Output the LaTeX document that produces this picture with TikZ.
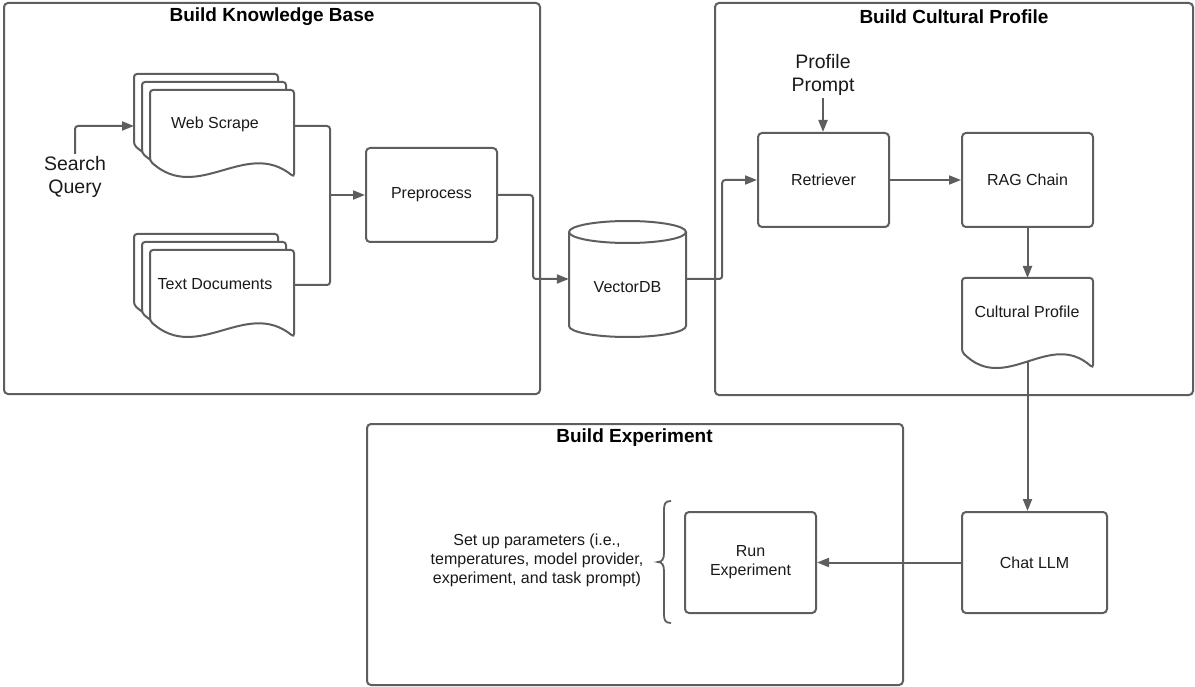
\documentclass[tikz,border=0pt]{standalone}
\usepackage{fontspec}
\setmainfont{Liberation Sans}
\usetikzlibrary{arrows.meta}
\definecolor{ln}{HTML}{5E5E5E}
\definecolor{tx}{HTML}{1A1A1A}
\tikzset{
  line/.style={draw=ln, line width=2pt},
  arr/.style={line, -{Triangle[length=12pt,width=9pt]}},
  frame/.style={line, rounded corners=4pt},
  box/.style={draw=ln, line width=2pt, rounded corners=4pt, fill=white, inner sep=1pt,
    font=\fontsize{16}{19}\selectfont, text=tx, align=center},
  lbl/.style={font=\fontsize{16}{19}\selectfont, text=tx, align=center, inner sep=1pt},
  biglbl/.style={font=\fontsize{19.5}{23.5}\selectfont, text=tx, align=center, inner sep=2pt},
  ttl/.style={font=\fontsize{19}{23}\selectfont\bfseries, text=black, inner sep=0pt},
  docsh/.style={draw=ln, line width=2pt, fill=white, rounded corners=3pt},
}
% l t r b : left, top, right, left-bottom y
\newcommand\mydocpath[4]{%
  \path[docsh] (#1,#4) -- (#1,#2) -- (#3,#2) -- (#3,{#4+16})
    .. controls ({#1+0.667*(#3-#1)},{#4-23}) and ({#1+0.333*(#3-#1)},{#4+43}) .. (#1,#4) -- cycle;}
\begin{document}
\begin{tikzpicture}[x=1pt,y=-1pt]
\useasboundingbox (0,0) rectangle (1195,687);
\fill[white] (0,0) rectangle (1195,687);

% frames
\draw[frame] (4,3) rectangle (540,394);
\draw[frame] (715,3) rectangle (1193,395);
\draw[frame] (367,424) rectangle (903,685);
\node[ttl] (t1) at (272,16.5) {Build Knowledge Base};
\node[ttl] (t2) at (954,16.5) {Build Cultural Profile};
\node[ttl] (t3) at (634.5,438) {Build Experiment};

% Web Scrape stack
\mydocpath{134}{74}{278}{145}
\mydocpath{142}{82}{286}{153}
\mydocpath{150}{90}{294}{161}
\node[lbl] (ws) at (215,124) {Web Scrape};
\coordinate (wsin) at (134,126);
\coordinate (wsout) at (294,126);

% Text Documents stack
\mydocpath{134}{234}{278}{305}
\mydocpath{142}{242}{286}{313}
\mydocpath{150}{250}{294}{321}
\node[lbl] (td) at (215,284) {Text Documents};
\coordinate (tdout) at (294,285);

% Search Query
\node[biglbl] (sq) at (75,177) {Search\\Query};
\draw[arr, rounded corners=3pt] (sq.north) |- (wsin);

% Preprocess
\node[box, minimum width=131pt, minimum height=94pt] (pre) at (431.5,195) {Preprocess};
\coordinate (jn) at (330,195);
\draw[line, rounded corners=3pt] (wsout) -| (jn) |- (tdout);
\draw[arr] (jn) -- (pre.west);

% VectorDB cylinder
\node[minimum width=117pt, minimum height=116pt, inner sep=0pt] (db) at (627.5,279) {};
\filldraw[line, fill=white] (569,232) -- (569,326)
  .. controls (569,332.08) and (595.2,337) .. (627.5,337)
  .. controls (659.8,337) and (686,332.08) .. (686,326) -- (686,232);
\draw[line, fill=white] (627.5,232) ellipse [x radius=58.5pt, y radius=11pt];
\node[lbl] (dbt) at (627.5,287) {VectorDB};
\draw[arr, rounded corners=3pt] (pre.east) -- ++(35,0) |- (db.west);

% Retriever, RAG Chain
\node[box, minimum width=131pt, minimum height=94pt] (ret) at (823.5,180) {Retriever};
\node[box, minimum width=131pt, minimum height=94pt] (rag) at (1027.5,180) {RAG Chain};
\draw[arr, rounded corners=3pt] (db.east) -- ++(36,0) |- (ret.west);
\draw[arr] (ret.east) -- (rag.west);
\node[biglbl] (pp) at (823,75) {Profile\\Prompt};
\draw[arr] (pp.south) -- (pp.south |- ret.north);

% Cultural Profile document
\mydocpath{962}{278}{1093}{352}
\node[lbl] (cp) at (1027,312) {Cultural Profile};
\coordinate (cpin) at (1027.5,278);
\coordinate (cpout) at (1027.5,361);
\draw[arr] (rag.south) -- (cpin);

% Chat LLM, Run Experiment
\node[box, minimum width=145pt, minimum height=101pt] (chat) at (1034.5,562.5) {Chat LLM};
\node[box, minimum width=131pt, minimum height=101pt] (run) at (750.5,562.5) {Run\\Experiment};
\draw[arr] (cpout) -- (cpout |- chat.north);
\draw[arr] (chat.west) -- (run.east);

% parameters with brace
\node[lbl] (par) at (537,560) {Set up parameters (i.e.,\\temperatures, model provider,\\experiment, and task prompt)};
\draw[line, line width=1.8pt] (671,501) .. controls (665,501) and (664,504) .. (664,510) -- (664,553)
  .. controls (664,559) and (662,562) .. (658,562)
  .. controls (662,562) and (664,565) .. (664,571) -- (664,614)
  .. controls (664,620) and (665,623) .. (671,623);
\end{tikzpicture}
\end{document}
